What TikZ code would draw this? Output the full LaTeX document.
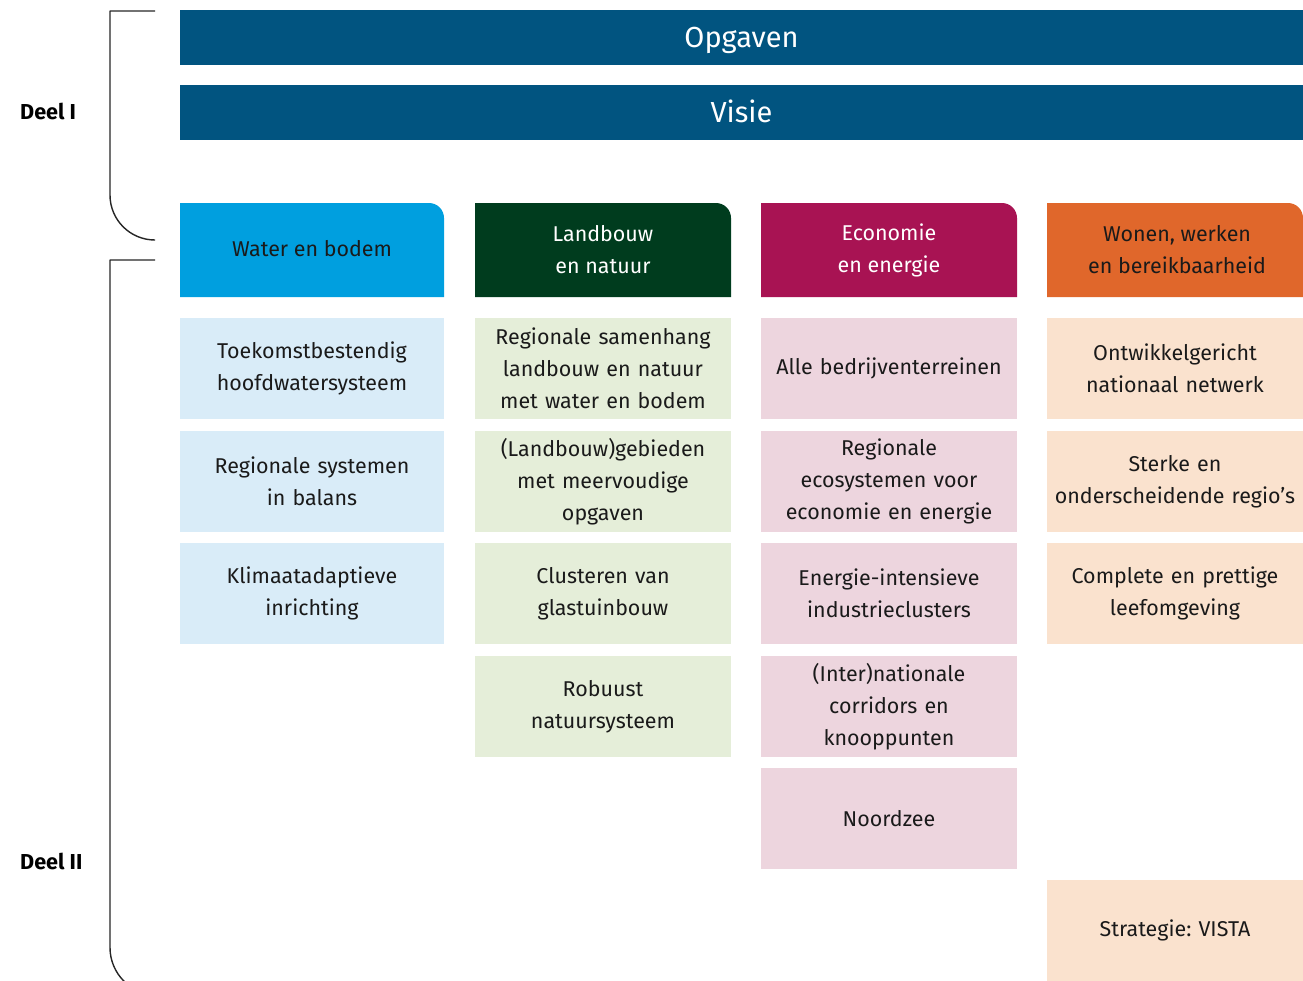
\documentclass[tikz,border=0pt]{standalone}
\usepackage{fontspec}
\setmainfont{Fira Sans}
\frenchspacing
\definecolor{rijksblue}{RGB}{1,84,128}
\definecolor{waterc}{RGB}{0,159,223}
\definecolor{landc}{RGB}{0,60,30}
\definecolor{econc}{RGB}{168,19,83}
\definecolor{woonc}{RGB}{224,103,43}
\definecolor{waterl}{RGB}{217,236,248}
\definecolor{landl}{RGB}{229,238,217}
\definecolor{econl}{RGB}{237,213,222}
\definecolor{woonl}{RGB}{250,226,206}
\definecolor{inkc}{RGB}{26,26,26}

\begin{document}
\begin{tikzpicture}[x=0.02cm,y=-0.02cm,line join=round,
  bar/.style={fill=rijksblue,text=white,minimum width=22.46cm,minimum height=1.1cm,
    inner sep=0pt,text height=11.6pt,text depth=0pt,font=\fontsize{16.5}{20}\selectfont},
  headtext/.style={align=center,font=\fontsize{12.2}{18.2}\selectfont},
  item/.style={minimum width=5.12cm,minimum height=2.02cm,inner sep=0pt,
    text width=5.1cm,align=center,text=inkc,font=\fontsize{12.2}{18.2}\selectfont},
  deel/.style={anchor=west,font=\fontsize{12.3}{15}\selectfont\bfseries},
  bracket/.style={line width=0.8pt,black!85}]

\useasboundingbox (0,0) rectangle (1303,981);

%% ---------------- part labels and brackets ----------------
\node[deel] (deel1) at (14,111) {Deel I};
\node[deel] (deel2) at (14,861) {Deel II};
\draw[bracket] (155,11) -- (110,11) -- (110,120) [rounded corners=0.9cm]
      -- (110,240) -- (155,240);
\draw[bracket] (155,260) -- (110,260) -- (110,600) [rounded corners=0.95cm]
      -- (110,995) -- (160,995);

%% ---------------- top bars ----------------
\node[bar] (opgaven) at (741.5,37.5) {Opgaven};
\node[bar] (visie) at (741.5,112.5) {Visie};

%% ---------------- column headers (top right corner rounded) ----------
\fill[waterc] (180,297) -- (180,203) [rounded corners=0.3cm] -- (444,203)
      [sharp corners] -- (444,297) -- cycle;
\fill[landc] (475,297) -- (475,203) [rounded corners=0.3cm] -- (731,203)
      [sharp corners] -- (731,297) -- cycle;
\fill[econc] (761,297) -- (761,203) [rounded corners=0.3cm] -- (1017,203)
      [sharp corners] -- (1017,297) -- cycle;
\fill[woonc] (1047,297) -- (1047,203) [rounded corners=0.3cm] -- (1303,203)
      [sharp corners] -- (1303,297) -- cycle;
\node[headtext,text=inkc] (hwater) at (312,249) {Water en bodem};
\node[headtext,text=white] (hland) at (603,250) {Landbouw\\en natuur};
\node[headtext,text=white] (hecon) at (889,250) {Economie\\en energie};
\node[headtext,text=inkc] (hwoon) at (1177,250) {Wonen, werken\\en bereikbaarheid};

%% ---------------- water en bodem ----------------
\node[item,fill=waterl,minimum width=5.28cm] (w1) at (312,368.5)
     {Toekomstbestendig\\hoofdwatersysteem};
\node[item,fill=waterl,minimum width=5.28cm] (w2) at (312,481.5)
     {Regionale systemen\\in balans};
\node[item,fill=waterl,minimum width=5.28cm] (w3) at (312,593.5)
     {Klimaatadaptieve\\inrichting};

%% ---------------- landbouw en natuur ----------------
\node[item,fill=landl] (l1) at (603,368.5)
     {Regionale samenhang\\landbouw en natuur\\met water en bodem};
\node[item,fill=landl] (l2) at (603,481.5)
     {(Landbouw)gebieden\\met meervoudige\\opgaven};
\node[item,fill=landl] (l3) at (603,593.5)
     {Clusteren van\\glastuinbouw};
\node[item,fill=landl] (l4) at (603,706.5)
     {Robuust\\natuursysteem};

%% ---------------- economie en energie ----------------
\node[item,fill=econl] (e1) at (889,368.5) {Alle bedrijventerreinen};
\node[item,fill=econl] (e2) at (889,481.5)
     {Regionale\\ecosystemen voor\\economie en energie};
\node[item,fill=econl] (e3) at (889,593.5)
     {Energie-intensieve\\industrieclusters};
\node[item,fill=econl] (e4) at (889,706.5)
     {(Inter)nationale\\corridors en\\knooppunten};
\node[item,fill=econl] (e5) at (889,818.5) {Noordzee};

%% ---------------- wonen, werken en bereikbaarheid ----------------
\node[item,fill=woonl] (o1) at (1175,368.5)
     {Ontwikkelgericht\\nationaal netwerk};
\node[item,fill=woonl] (o2) at (1175,481.5)
     {Sterke en\\onderscheidende regio’s};
\node[item,fill=woonl] (o3) at (1175,593.5)
     {Complete en prettige\\leefomgeving};
\node[item,fill=woonl] (vista) at (1175,930.5) {Strategie: VISTA};

\end{tikzpicture}
\end{document}
